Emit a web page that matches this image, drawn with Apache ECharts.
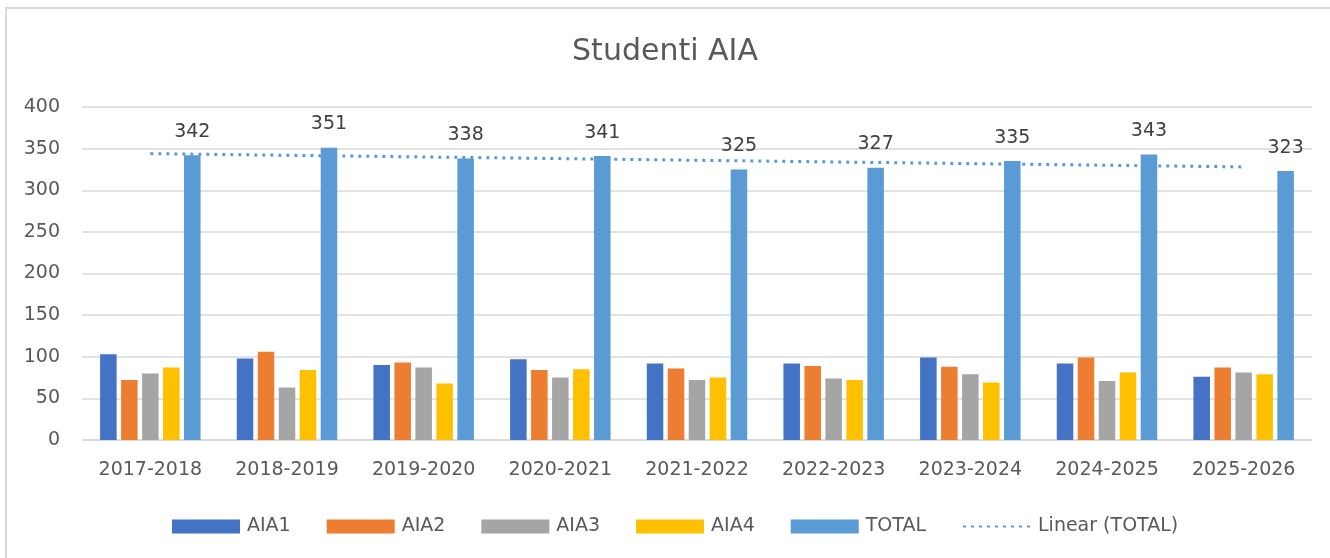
<!DOCTYPE html>
<html>
<head>
<meta charset="utf-8">
<script src="https://cdn.jsdelivr.net/npm/echarts@6/dist/echarts.min.js"></script>
<style>
html,body{margin:0;padding:0;background:#fff;}
#chart{width:1330px;height:558px;}
</style>
</head>
<body>
<div id="chart"></div>
<script>
const categories = ['2017-2018','2018-2019','2019-2020','2020-2021','2021-2022','2022-2023','2023-2024','2024-2025','2025-2026'];
const aia1 = [103, 98, 90, 97, 92, 92, 99, 92, 76];
const aia2 = [72, 106, 93, 84, 86, 89, 88, 99, 87];
const aia3 = [80, 63, 87, 75, 72, 74, 79, 71, 81];
const aia4 = [87, 84, 68, 85, 75, 72, 69, 81, 79];
const total = [342, 351, 338, 341, 325, 327, 335, 343, 323];
const trendTotal = [344, 342, 340, 338, 336, 334, 332, 330, 328];
const yTicks = [0, 50, 100, 150, 200, 250, 300, 350, 400];

const FONT = '"DejaVu Sans", "Open Sans", sans-serif';
const chart = echarts.init(document.getElementById('chart'), null, {renderer: 'canvas'});

function bar(name, data, color, withLabel) {
  const s = {
    name: name, type: 'bar', data: data, z: 3,
    barGap: '27%', barCategoryGap: '26.5%',
    itemStyle: {color: color},
    emphasis: {disabled: true}
  };
  if (withLabel) {
    s.label = {show: true, position: 'top', distance: 14, color: '#404040', fontSize: 19, fontFamily: FONT};
  }
  return s;
}

chart.setOption({
  animation: false,
  backgroundColor: '#ffffff',
  textStyle: {fontFamily: FONT},
  title: {
    text: 'Studenti AIA', left: 'center', top: 32,
    textStyle: {fontSize: 30, fontWeight: 'normal', color: '#595959', fontFamily: FONT}
  },
  graphic: [{
    type: 'rect', silent: true,
    shape: {x: 6, y: 8, width: 1340, height: 560},
    style: {fill: 'none', stroke: '#D9D9D9', lineWidth: 2}
  }],
  legend: {
    left: 167, top: 512,
    itemWidth: 68, itemHeight: 14, itemGap: 36,
    textStyle: {fontSize: 19, color: '#595959', fontFamily: FONT, padding: [0, 0, 0, 2]},
    data: [
      {name: 'AIA1', icon: 'rect'}, {name: 'AIA2', icon: 'rect'}, {name: 'AIA3', icon: 'rect'},
      {name: 'AIA4', icon: 'rect'}, {name: 'TOTAL', icon: 'rect'},
      {name: 'Linear (TOTAL)', itemStyle: {opacity: 0}}
    ]
  },
  grid: {left: 82, right: 18, top: 107, bottom: 118, containLabel: false},
  xAxis: {
    type: 'category', data: categories,
    axisLine: {show: true, lineStyle: {color: '#D9D9D9', width: 1.5}},
    axisTick: {show: false},
    axisLabel: {color: '#595959', fontSize: 19, margin: 21, fontFamily: FONT}
  },
  yAxis: {
    type: 'value', min: yTicks[0], max: yTicks[yTicks.length - 1], interval: 50,
    axisLine: {show: false}, axisTick: {show: false},
    axisLabel: {color: '#595959', fontSize: 19, margin: 22, fontFamily: FONT},
    splitLine: {lineStyle: {color: '#D9D9D9', width: 1.5}}
  },
  series: [
    bar('AIA1', aia1, '#4472C4'),
    bar('AIA2', aia2, '#ED7D31'),
    bar('AIA3', aia3, '#A5A5A5'),
    bar('AIA4', aia4, '#FFC000'),
    bar('TOTAL', total, '#5B9BD5', true),
    {
      name: 'Linear (TOTAL)', type: 'line', data: trendTotal, z: 1,
      symbol: 'none', smooth: false,
      itemStyle: {color: '#5B9BD5'},
      lineStyle: {color: '#5B9BD5', width: 3, type: [3, 5]},
      emphasis: {disabled: true}
    }
  ]
});
</script>
</body>
</html>
